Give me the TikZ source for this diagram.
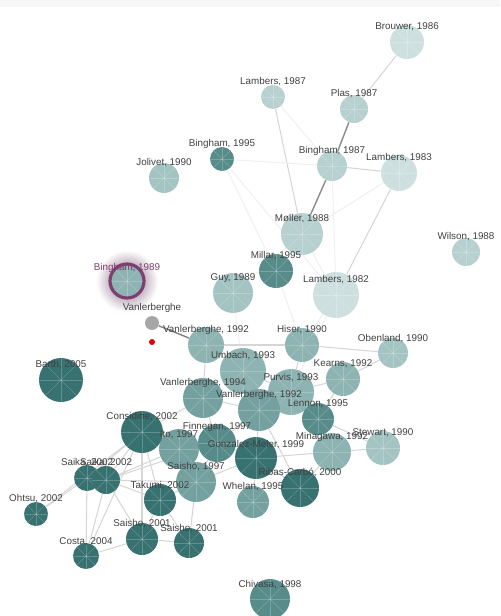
\documentclass[tikz,border=0pt]{standalone}
\usepackage{fontspec}
\setmainfont{Liberation Sans}
\usetikzlibrary{backgrounds}

\definecolor{pale}{HTML}{CDDFDF}
\definecolor{light}{HTML}{B7D0D0}
\definecolor{soft}{HTML}{A4C3C3}
\definecolor{mid}{HTML}{8DB3B2}
\definecolor{deep}{HTML}{74A1A0}
\definecolor{dark}{HTML}{578C8B}
\definecolor{darkest}{HTML}{377170}
\definecolor{ink}{HTML}{404040}
\definecolor{ring}{HTML}{7D3F70}

\tikzset{
  spokes/.style={path picture={
      \foreach \p in {north,south,east,west,north east,north west,south east,south west}
        \draw[white, opacity=.22, line width=.3pt] (path picture bounding box.center) -- (path picture bounding box.\p);}},
  paper/.style={circle, inner sep=0pt, fill=#1, spokes},
  rad/.style={minimum size=#1*0.4mm},
  lbl/.style={font=\fontsize{5.6}{6}\selectfont, text=ink, inner sep=0pt},
  link/.style={draw=black!16, line width=0.6pt},
  faint/.style={draw=black!6, line width=0.6pt},
  strong/.style={draw=black!45, line width=0.8pt},
}

\begin{document}
\begin{tikzpicture}[x=0.2mm, y=-0.2mm]
    \useasboundingbox (0,0) rectangle (500,616);
    \fill[black!3] (0,0) rectangle (500,7);
    %nodes
    \node[paper=pale, rad=17]     (brouwer86)  at (407,42) {};
    \node[paper=light, rad=12]    (lambers87)  at (273,97) {};
    \node[paper=light, rad=14]    (plas87)     at (354,109) {};
    \node[paper=dark, rad=12]     (bingham95)  at (222,159) {};
    \node[paper=soft, rad=15]     (jolivet90)  at (164,178) {};
    \node[paper=light, rad=15]    (bingham87)  at (332,166) {};
    \node[paper=pale, rad=18]     (lambers83)  at (399,173) {};
    \node[paper=light, rad=21]    (moller88)   at (302,234) {};
    \node[paper=light, rad=14]    (wilson88)   at (466,252) {};
    \node[paper=dark, rad=17]     (millar95)   at (276,271) {};
    \node[paper=mid, rad=17, draw=ring, line width=1.8pt] (bingham89) at (127,281) {};
    \node[paper=soft, rad=20]     (guy89)      at (233,293) {};
    \node[paper=pale, rad=23]     (lambers82)  at (336,295) {};
    \node[circle, inner sep=0pt, minimum size=2.8mm, fill=black!35] (vanlerberghe) at (152,323) {};
    \node[circle, inner sep=0pt, minimum size=1.2mm, fill=red!90!black] (reddot) at (152,342) {};
    \node[paper=mid, rad=18]      (vanlerberghe92a) at (206,345) {};
    \node[paper=mid, rad=17]      (hiser90)    at (302,345) {};
    \node[paper=soft, rad=15]     (obenland90) at (393,353) {};
    \node[paper=darkest, rad=22]  (barth05)    at (61,380) {};
    \node[paper=mid, rad=23]      (umbach93)   at (243,371) {};
    \node[paper=mid, rad=17]      (kearns92)   at (343,379) {};
    \node[paper=mid, rad=23]      (purvis93)   at (291,392) {};
    \node[paper=deep, rad=20]     (vanlerberghe94) at (203,398) {};
    \node[paper=deep, rad=21]     (vanlerberghe92b) at (259,410) {};
    \node[paper=dark, rad=16]     (lennon95)   at (318,419) {};
    \node[paper=deep, rad=20]     (ito97)      at (179,449) {};
    \node[paper=darkest, rad=21]  (considine02) at (142,432) {};
    \node[paper=dark, rad=19]     (finnegan97) at (217,443) {};
    \node[paper=darkest, rad=21]  (gonzalez99) at (256,458) {};
    \node[paper=mid, rad=19]      (minagawa92) at (332,452) {};
    \node[paper=soft, rad=17]     (stewart90)  at (383,448) {};
    \node[paper=deep, rad=20]     (saisho97)   at (196,482) {};
    \node[paper=darkest, rad=19]  (ribas00)    at (300,488) {};
    \node[paper=darkest, rad=13]  (saika02a)   at (87,478) {};
    \node[paper=darkest, rad=14]  (saika02b)   at (106,480) {};
    \node[paper=darkest, rad=16]  (takumi02)   at (160,500) {};
    \node[paper=deep, rad=16]     (whelan95)   at (253,502) {};
    \node[paper=darkest, rad=12]  (ohtsu02)    at (36,514) {};
    \node[paper=darkest, rad=16]  (saisho01a)  at (142,539) {};
    \node[paper=darkest, rad=15]  (saisho01b)  at (189,543) {};
    \node[paper=darkest, rad=13]  (costa04)    at (86,556) {};
    \node[paper=dark, rad=20]     (chivasa98)  at (270,599) {};

    %links
    \begin{scope}[on background layer]
    \shade[inner color=ring!75!black!80, outer color=white] (bingham89.center) circle (6.2mm);
    \draw[strong] (plas87) -- (bingham87);
    \draw[strong] (bingham87) -- (moller88);
    \draw[link] (brouwer86) -- (plas87);
    \draw[link] (lambers87) -- (moller88);
    \draw[link] (bingham87) -- (lambers83);
    \draw[link] (lambers83) -- (lambers82);
    \draw[draw=black!50, line width=0.8pt] (vanlerberghe) -- (vanlerberghe92a);
    \foreach \a/\b in {lambers87/bingham87, lambers83/moller88, bingham95/bingham87,
        bingham95/millar95, bingham95/lambers82, moller88/lambers82, bingham87/lambers82,
        moller88/millar95, moller88/guy89, guy89/umbach93, millar95/hiser90,
        lambers82/hiser90, lambers82/purvis93}
      \draw[faint] (\a) -- (\b);
    \foreach \a/\b in {vanlerberghe92a/hiser90, hiser90/obenland90, vanlerberghe92a/vanlerberghe94,
        vanlerberghe92a/umbach93, hiser90/purvis93, umbach93/purvis93, umbach93/vanlerberghe92b,
        purvis93/kearns92, kearns92/obenland90, purvis93/lennon95, purvis93/vanlerberghe92b,
        lennon95/stewart90, lennon95/minagawa92, minagawa92/stewart90, vanlerberghe92b/gonzalez99,
        vanlerberghe92b/finnegan97, vanlerberghe92b/ribas00, gonzalez99/ribas00, gonzalez99/minagawa92,
        finnegan97/gonzalez99, finnegan97/ito97, ito97/considine02, ito97/saisho97, finnegan97/saisho97,
        vanlerberghe94/finnegan97, vanlerberghe94/vanlerberghe92b, vanlerberghe94/considine02,
        kearns92/lennon95, gonzalez99/whelan95, considine02/saika02a, considine02/saika02b,
        considine02/takumi02, considine02/saisho01a, saika02a/ohtsu02, saika02a/costa04,
        saika02b/costa04, saika02b/saisho01a, saika02b/takumi02, saika02b/saisho97, saika02b/ito97,
        saika02b/finnegan97, costa04/saisho01a, costa04/considine02, saisho01a/saisho01b,
        saisho01a/takumi02, saisho01b/saisho97, saisho01b/takumi02, takumi02/saisho97,
        ohtsu02/considine02, saisho97/gonzalez99, ribas00/minagawa92}
      \draw[link] (\a) -- (\b);
    \end{scope}

    %labels
    \node[lbl] (brouwer86-l)  at ([yshift=3mm]brouwer86) {Brouwer, 1986};
    \node[lbl] (lambers87-l)  at ([yshift=3mm]lambers87) {Lambers, 1987};
    \node[lbl] (plas87-l)     at ([yshift=3mm]plas87) {Plas, 1987};
    \node[lbl] (bingham95-l)  at ([yshift=3mm]bingham95) {Bingham, 1995};
    \node[lbl] (jolivet90-l)  at ([yshift=3mm]jolivet90) {Jolivet, 1990};
    \node[lbl] (bingham87-l)  at ([yshift=3mm]bingham87) {Bingham, 1987};
    \node[lbl] (lambers83-l)  at ([yshift=3mm]lambers83) {Lambers, 1983};
    \node[lbl] (moller88-l)   at ([yshift=3mm]moller88) {Møller, 1988};
    \node[lbl] (wilson88-l)   at ([yshift=3mm]wilson88) {Wilson, 1988};
    \node[lbl] (millar95-l)   at ([yshift=3mm]millar95) {Millar, 1995};
    \node[lbl, text=ring] (bingham89-l) at ([yshift=2.6mm]bingham89) {Bingham, 1989};
    \node[lbl] (guy89-l)      at ([yshift=3mm]guy89) {Guy, 1989};
    \node[lbl] (lambers82-l)  at ([yshift=3mm]lambers82) {Lambers, 1982};
    \node[lbl] (vanlerberghe-l) at ([yshift=3mm]vanlerberghe) {Vanlerberghe};
    \node[lbl] (vanlerberghe92a-l) at ([yshift=3mm]vanlerberghe92a) {Vanlerberghe, 1992};
    \node[lbl] (hiser90-l)    at ([yshift=3mm]hiser90) {Hiser, 1990};
    \node[lbl] (obenland90-l) at ([yshift=2.8mm]obenland90) {Obenland, 1990};
    \node[lbl] (barth05-l)    at ([yshift=3mm]barth05) {Barth, 2005};
    \node[lbl] (umbach93-l)   at ([yshift=3mm]umbach93) {Umbach, 1993};
    \node[lbl] (kearns92-l)   at ([yshift=3mm]kearns92) {Kearns, 1992};
    \node[lbl] (purvis93-l)   at ([yshift=2.8mm]purvis93) {Purvis, 1993};
    \node[lbl] (vanlerberghe94-l) at ([yshift=3mm]vanlerberghe94) {Vanlerberghe, 1994};
    \node[lbl] (vanlerberghe92b-l) at ([yshift=3mm]vanlerberghe92b) {Vanlerberghe, 1992};
    \node[lbl] (lennon95-l)   at ([yshift=3mm]lennon95) {Lennon, 1995};
    \node[lbl] (considine02-l) at ([yshift=3mm]considine02) {Considine, 2002};
    \node[lbl] (finnegan97-l) at ([yshift=3.2mm]finnegan97) {Finnegan, 1997};
    \node[lbl] (ito97-l)      at ([yshift=2.8mm]ito97) {Ito, 1997};
    \node[lbl] (gonzalez99-l) at ([yshift=2.6mm]gonzalez99) {Gonzalez-Meler, 1999};
    \node[lbl] (minagawa92-l) at ([yshift=3mm]minagawa92) {Minagawa, 1992};
    \node[lbl] (stewart90-l)  at ([yshift=3mm]stewart90) {Stewart, 1990};
    \node[lbl] (saisho97-l)   at ([yshift=3mm]saisho97) {Saisho, 1997};
    \node[lbl] (ribas00-l)    at ([yshift=3mm]ribas00) {Ribas-Carbó, 2000};
    \node[lbl] (saika02a-l)   at ([yshift=3mm]saika02a) {Saika, 2002};
    \node[lbl] (saika02b-l)   at ([yshift=3.4mm]saika02b) {Saika, 2002};
    \node[lbl] (takumi02-l)   at ([yshift=2.8mm]takumi02) {Takumi, 2002};
    \node[lbl] (whelan95-l)   at ([yshift=3mm]whelan95) {Whelan, 1995};
    \node[lbl] (ohtsu02-l)    at ([yshift=3mm]ohtsu02) {Ohtsu, 2002};
    \node[lbl] (saisho01a-l)  at ([yshift=3mm]saisho01a) {Saisho, 2001};
    \node[lbl] (saisho01b-l)  at ([yshift=2.8mm]saisho01b) {Saisho, 2001};
    \node[lbl] (costa04-l)    at ([yshift=2.8mm]costa04) {Costa, 2004};
    \node[lbl] (chivasa98-l)  at ([yshift=2.8mm]chivasa98) {Chivasa, 1998};
\end{tikzpicture}
\end{document}
